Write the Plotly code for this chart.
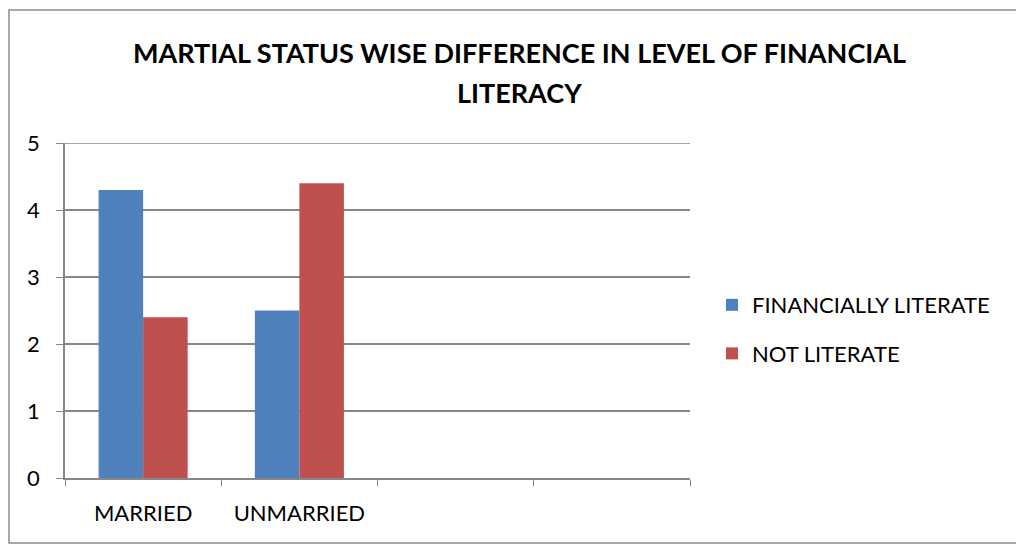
import plotly.graph_objects as go

# Chart data
categories = ["MARRIED", "UNMARRIED"]
axis_slots = ["MARRIED", "UNMARRIED", " ", "  "]
financially_literate = [4.3, 2.5]
not_literate = [2.4, 4.4]
y_ticks = [0, 1, 2, 3, 4, 5]
title_lines = ["MARTIAL STATUS WISE DIFFERENCE IN LEVEL OF FINANCIAL", "LITERACY"]

W, H = 1016, 545
L, R, T, B = 65, 690, 143, 478  # plot area in pixels

FONT = "Lato"
GRID = "#878787"

fig = go.Figure()
fig.add_trace(go.Bar(
    x=categories, y=financially_literate, name="FINANCIALLY LITERATE",
    marker=dict(color="#4F81BD", line=dict(width=0)), legendgroup="a",
))
fig.add_trace(go.Bar(
    x=categories, y=not_literate, name="NOT LITERATE",
    marker=dict(color="#C0504D", line=dict(width=0)), legendgroup="b",
))

pw, ph = R - L, B - T

def px_x(p):
    return (p - L) / pw

def px_y(p):
    return (B - p) / ph

# Two-line title, each line placed on its own baseline
annotations = [
    dict(text=f"<b>{line}</b>", xref="paper", yref="paper",
         x=px_x(519), y=px_y(cy), xanchor="center", yanchor="middle",
         showarrow=False, font=dict(family=FONT, size=27, color="black"))
    for line, cy in zip(title_lines, [53, 92])
]

fig.update_layout(
    width=W, height=H,
    margin=dict(l=L, r=W - R, t=T, b=H - B, pad=0),
    paper_bgcolor="white", plot_bgcolor="white",
    barmode="group", bargap=0.43, bargroupgap=0,
    font=dict(family=FONT, color="black", size=22),
    annotations=annotations,
    legend=dict(
        x=px_x(712), xanchor="left", y=px_y(284), yanchor="top",
        font=dict(family=FONT, size=22, color="black"),
        traceorder="grouped", tracegroupgap=17,
        itemwidth=30, bgcolor="rgba(0,0,0,0)",
    ),
    xaxis=dict(
        type="category", categoryorder="array", categoryarray=axis_slots,
        range=[-0.5, 3.5], tickson="boundaries", ticks="outside", ticklen=6,
        tickcolor=GRID, showline=True, linecolor=GRID, linewidth=1.5,
        showgrid=False, tickfont=dict(family=FONT, size=22),
        ticklabelstandoff=15,
    ),
    yaxis=dict(
        range=[0, 5], tickvals=y_ticks, ticks="outside", ticklen=7,
        tickcolor=GRID, showline=True, linecolor=GRID, linewidth=1.5,
        showgrid=True, gridcolor=GRID, gridwidth=1.5, zeroline=False,
        tickfont=dict(family=FONT, size=22), ticklabelstandoff=12,
    ),
    shapes=[
        dict(type="rect", xref="paper", yref="paper",
             x0=px_x(9), x1=px_x(1030), y0=px_y(543), y1=px_y(10),
             line=dict(color="#8C8C8C", width=1.5), layer="below"),
        # gridline at the top of the value range
        dict(type="line", xref="paper", yref="y",
             x0=0, x1=1, y0=y_ticks[-1], y1=y_ticks[-1],
             line=dict(color=GRID, width=1.5), layer="below"),
    ],
)

fig.write_html("out.html")
